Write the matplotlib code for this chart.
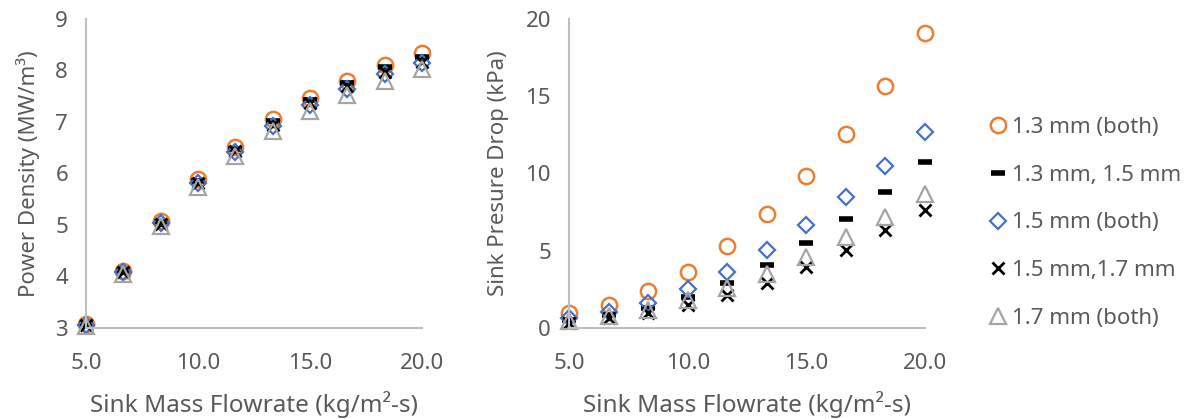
import matplotlib
matplotlib.use("Agg")
import matplotlib.pyplot as plt
from matplotlib.ticker import FormatStrFormatter

plt.rcParams['font.family'] = ['Noto Sans', 'DejaVu Sans']

flow = [5.0, 6.67, 8.33, 10.0, 11.67, 13.33, 15.0, 16.67, 18.33, 20.0]

# power density (MW/m3)
pd_13_13 = [3.08, 4.11, 5.07, 5.89, 6.52, 7.06, 7.47, 7.80, 8.11, 8.33]
pd_13_15 = [3.07, 4.10, 5.05, 5.86, 6.48, 7.01, 7.42, 7.76, 8.06, 8.27]
pd_15_15 = [3.06, 4.08, 5.03, 5.81, 6.42, 6.93, 7.33, 7.65, 7.93, 8.15]
pd_15_17 = [3.06, 4.08, 5.02, 5.82, 6.43, 6.95, 7.36, 7.69, 7.98, 8.17]
pd_17_17 = [3.04, 4.05, 4.98, 5.74, 6.34, 6.83, 7.21, 7.53, 7.79, 8.02]

# sink pressure drop (kPa)
dp_13_13 = [0.97, 1.49, 2.39, 3.62, 5.31, 7.38, 9.84, 12.56, 15.66, 19.1]
dp_13_15 = [0.50, 0.85, 1.30, 2.00, 2.90, 4.08, 5.50, 7.05, 8.80, 10.74]
dp_15_15 = [0.65, 1.03, 1.62, 2.52, 3.62, 5.05, 6.67, 8.47, 10.5, 12.7]
dp_15_17 = [0.35, 0.65, 1.00, 1.49, 2.13, 2.90, 3.95, 5.05, 6.34, 7.64]
dp_17_17 = [0.45, 0.75, 1.15, 1.80, 2.60, 3.50, 4.60, 5.90, 7.20, 8.70]

labels = ['1.3 mm (both)', '1.3 mm, 1.5 mm', '1.5 mm (both)', '1.5 mm,1.7 mm', '1.7 mm (both)']

orange = '#ED7D31'
blue = '#4472C4'
gray = '#A5A5A5'
axis_col = '#BFBFBF'
text_col = '#595959'

styles = [
    dict(marker='o', ms=11, mfc='none', mec=orange, mew=1.8),
    dict(marker='_', ms=10, mec='black', mew=4),
    dict(marker='D', ms=8, mfc='none', mec=blue, mew=1.6),
    dict(marker='x', ms=9, mec='black', mew=2),
    dict(marker='^', ms=11, mfc='none', mec=gray, mew=1.6),
]

fig = plt.figure(figsize=(11.88, 4.19), dpi=100)
ax1 = fig.add_axes([0.0724, 0.2172, 0.2828, 0.7375])
ax2 = fig.add_axes([0.479, 0.2172, 0.2997, 0.7375])

pd_series = [pd_13_13, pd_13_15, pd_15_15, pd_15_17, pd_17_17]
dp_series = [dp_13_13, dp_13_15, dp_15_15, dp_15_17, dp_17_17]

for ys, st in zip(pd_series, styles):
    ax1.plot(flow, ys, linestyle='none', clip_on=False, **st)
for ys, st, lab in zip(dp_series, styles, labels):
    ax2.plot(flow, ys, linestyle='none', clip_on=False, label=lab, **st)

ax1.set_xlim(5, 20)
ax1.set_ylim(3, 9)
ax1.set_yticks([3, 4, 5, 6, 7, 8, 9])
ax2.set_xlim(5, 20)
ax2.set_ylim(0, 20)
ax2.set_yticks([0, 5, 10, 15, 20])

for ax in (ax1, ax2):
    ax.set_xticks([5, 10, 15, 20])
    ax.xaxis.set_major_formatter(FormatStrFormatter('%.1f'))
    for s in ('top', 'right'):
        ax.spines[s].set_visible(False)
    for s in ('left', 'bottom'):
        ax.spines[s].set_color(axis_col)
        ax.spines[s].set_linewidth(1.5)
    ax.tick_params(length=0, labelsize=16, labelcolor=text_col)
    ax.tick_params(axis='x', pad=18)
    ax.tick_params(axis='y', pad=13)
    ax.set_xlabel('Sink Mass Flowrate (kg/m²-s)', fontsize=17.5, color=text_col, labelpad=12)

ax1.set_ylabel('Power Density (MW/m³)', fontsize=16, color=text_col, labelpad=11)
ax2.set_ylabel('Sink Presure Drop (kPa)', fontsize=16, color=text_col, labelpad=12)

leg = ax2.legend(loc='center left', bbox_to_anchor=(1.16, 0.34), frameon=False,
                 fontsize=16, labelcolor=text_col, handlelength=0.6, handletextpad=0.35,
                 labelspacing=1.2, borderaxespad=0)

fig.savefig('out.png', dpi=100)
